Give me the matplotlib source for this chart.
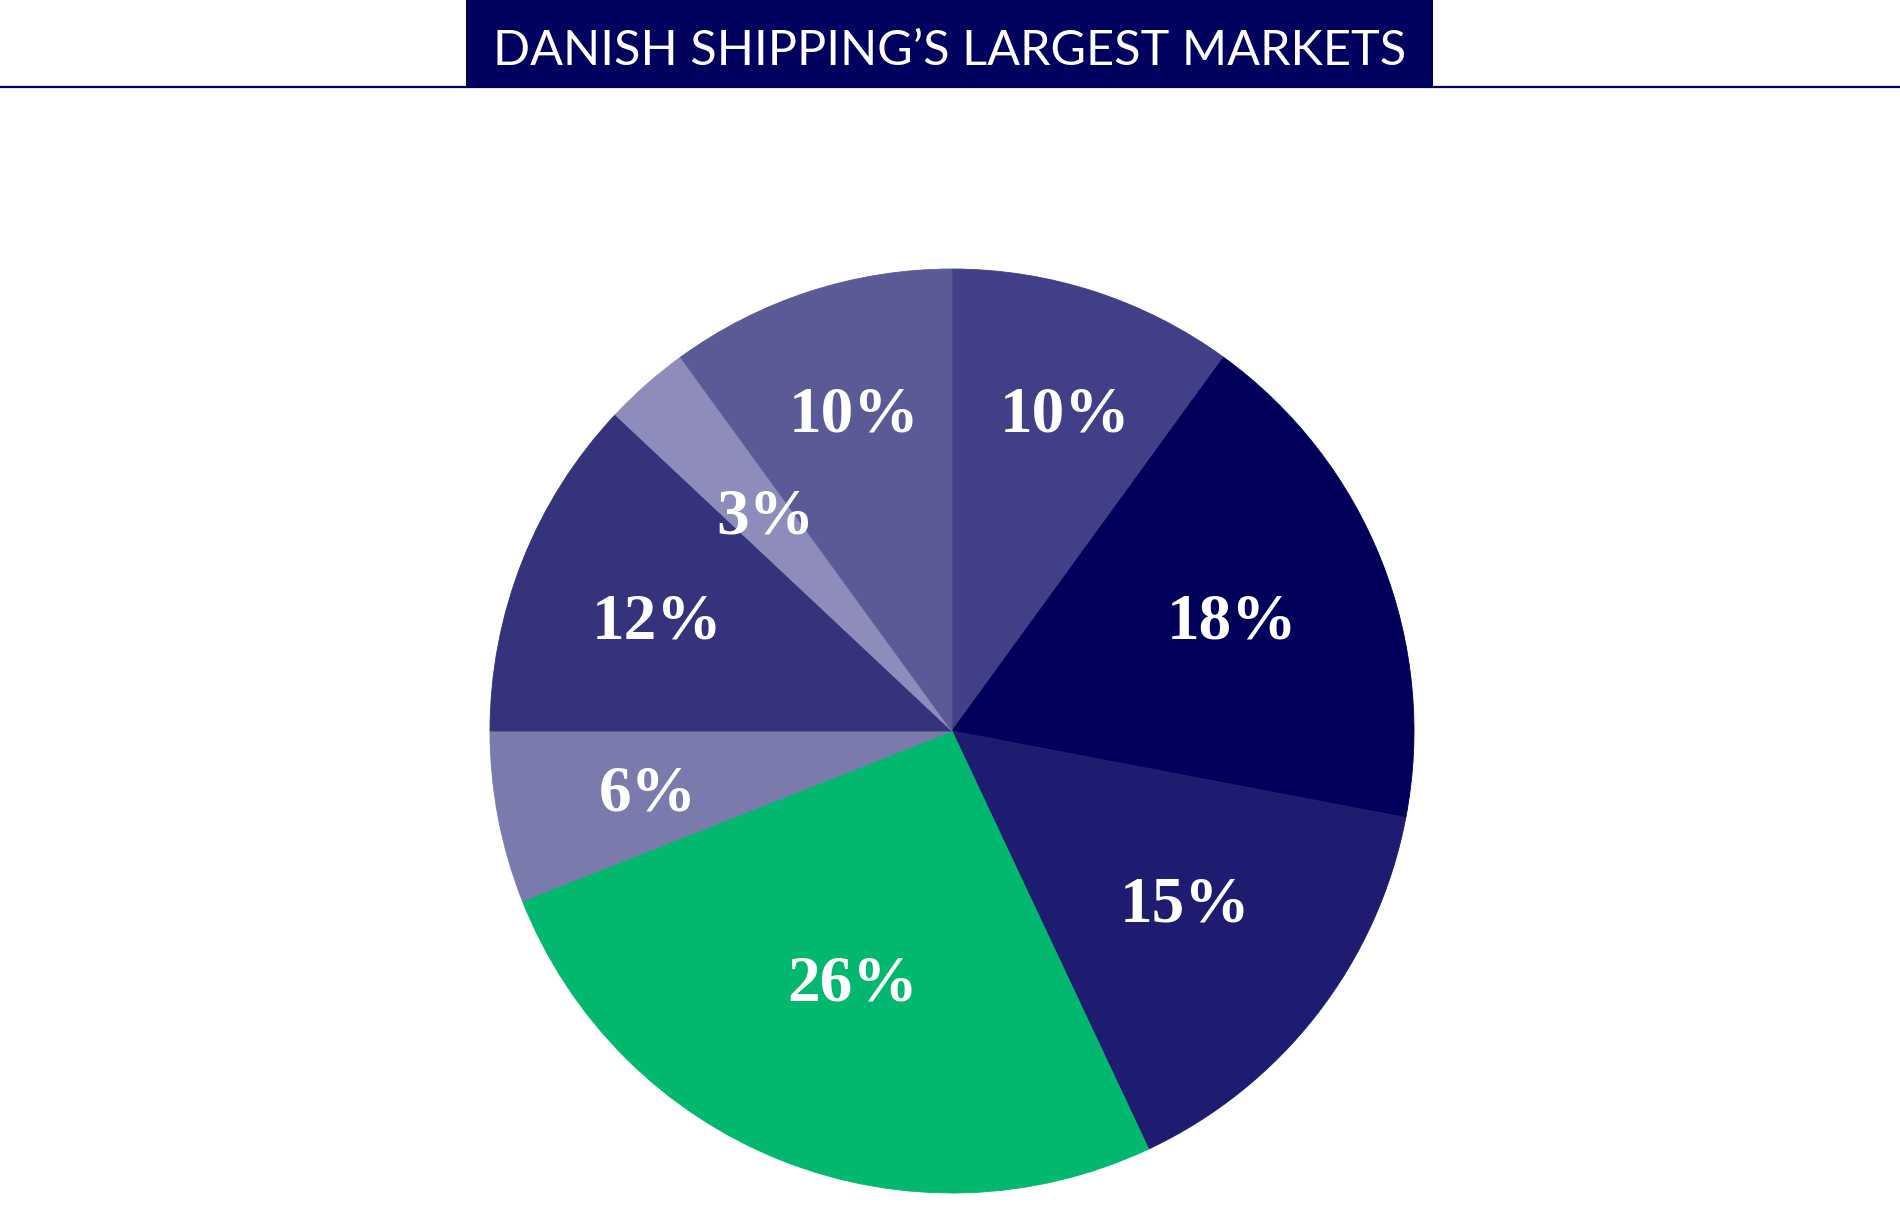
import matplotlib
matplotlib.use("Agg")
import matplotlib.pyplot as plt
import numpy as np
from matplotlib.patches import Rectangle
from matplotlib.lines import Line2D

# slice shares, clockwise from 12 o'clock
shares = [10, 18, 15, 26, 6, 12, 3, 10]
labels = ["10%", "18%", "15%", "26%", "6%", "12%", "3%", "10%"]
colors = ["#403f88", "#00005a", "#1d1c70", "#02b86e",
          "#7a7aac", "#35337b", "#8d8cba", "#5a5a96"]
# label placement: distance from centre (fraction of radius) and a small
# angular nudge away from the slice middle, in degrees
label_radius = [0.74, 0.655, 0.62, 0.575, 0.67, 0.685, 0.625, 0.73]
label_nudge = [-1.3, 0.8, 2.1, -0.4, -0.2, 0.2, -1.2, -1.1]

TITLE = "DANISH SHIPPING\u2019S LARGEST MARKETS"
NAVY = "#00005f"

W, H = 1900, 1226
fig = plt.figure(figsize=(W / 100, H / 100), dpi=100)
fig.patch.set_facecolor("white")

# --- pie axes, placed so the circle lands where it is in the reference ---
cx, cy, r = 952, H - 731, 462
pad = 1.05
ax = fig.add_axes([(cx - r * pad) / W, (cy - r * pad) / H,
                   2 * r * pad / W, 2 * r * pad / H])
wedges, _ = ax.pie(shares, colors=colors, startangle=90, counterclock=False,
                   radius=1, wedgeprops=dict(linewidth=0))
for w, c in zip(wedges, colors):
    w.set_edgecolor(c)
    w.set_linewidth(0.6)
ax.set_xlim(-pad, pad)
ax.set_ylim(-pad, pad)
ax.set_aspect("equal")
ax.axis("off")

for w, lab, lr, nd in zip(wedges, labels, label_radius, label_nudge):
    ang = np.deg2rad((w.theta1 + w.theta2) / 2 + nd)
    ax.text(lr * np.cos(ang), lr * np.sin(ang), lab, ha="center",
            va="center_baseline", color="white", fontsize=47,
            fontweight="bold", family="Liberation Serif")

# --- title banner ---
fig.add_artist(Line2D([0, 1], [1 - 87 / H, 1 - 87 / H], color=NAVY, lw=1.6,
                      transform=fig.transFigure))
fig.add_artist(Rectangle((466 / W, 1 - 88 / H), (1433 - 466) / W, 88 / H,
                         transform=fig.transFigure, facecolor=NAVY,
                         edgecolor="none"))
fig.text(950 / W, 1 - 47 / H, TITLE, ha="center", va="center_baseline",
         color="white", fontsize=35, family="Lato")

fig.savefig("out.png", dpi=100, facecolor="white")
